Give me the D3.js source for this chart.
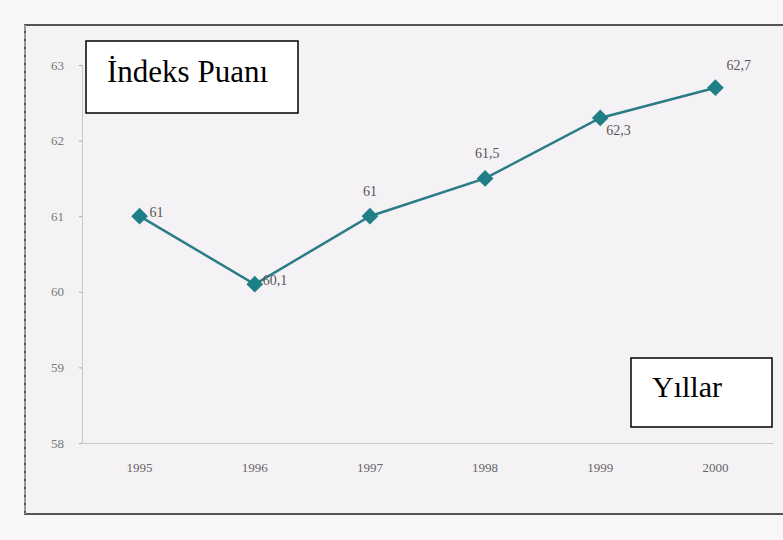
<!DOCTYPE html>
<html>
<head>
<meta charset="utf-8">
<script src="https://cdn.jsdelivr.net/npm/d3@7"></script>
<style>
body { margin: 0; background: #f8f6f9; }
</style>
</head>
<body>
<script>
var years = ["1995", "1996", "1997", "1998", "1999", "2000"];
var values = [61, 60.1, 61, 61.5, 62.3, 62.7];
var valueLabels = ["61", "60,1", "61", "61,5", "62,3", "62,7"];
var yTicks = [58, 59, 60, 61, 62, 63];

var W = 783, H = 540;
var margin = {top: 65, right: 10, bottom: 97, left: 82};

var svg = d3.select("body").append("svg")
  .attr("width", W)
  .attr("height", H);

// outer frame (cut off on the right like the scan)
svg.append("rect")
  .attr("x", 25).attr("y", 25)
  .attr("width", W + 10).attr("height", 489)
  .attr("fill", "#f5f2f6")
  .attr("stroke", "#555")
  .attr("stroke-width", 2);
svg.append("line")
  .attr("x1", 25).attr("y1", 25).attr("x2", 25).attr("y2", 514)
  .attr("stroke", "#999").attr("stroke-width", 2)
  .attr("stroke-dasharray", "6,2");

var xScale = d3.scaleBand()
  .domain(years)
  .range([margin.left, 773])
  .paddingInner(0)
  .paddingOuter(0);

var yScale = d3.scaleLinear()
  .domain([58, 63])
  .range([443, 65]);

var yAxis = d3.axisLeft(yScale).tickValues(yTicks).tickFormat(d3.format("d")).tickSize(3).tickPadding(15);
var yG = svg.append("g")
  .attr("transform", "translate(" + margin.left + ",0)")
  .call(yAxis);
yG.select(".domain").attr("stroke", "#c8c8c8");
yG.selectAll(".tick line").attr("stroke", "#aaa");
yG.selectAll("text")
  .attr("fill", "#777")
  .style("font-family", "Liberation Serif, Times New Roman, serif")
  .style("font-size", "13px");

var xAxis = d3.axisBottom(xScale).tickSize(0).tickPadding(20);
var xG = svg.append("g")
  .attr("transform", "translate(0,443)")
  .call(xAxis);
xG.select(".domain").attr("stroke", "#c8c8c8");
xG.selectAll("text")
  .attr("fill", "#666")
  .style("font-family", "Liberation Serif, Times New Roman, serif")
  .style("font-size", "13px");

var cx = function(d, i) { return xScale(years[i]) + xScale.bandwidth() / 2; };

var line = d3.line()
  .x(function(d, i) { return cx(d, i); })
  .y(function(d) { return yScale(d); });

svg.append("path")
  .datum(values)
  .attr("d", line)
  .attr("fill", "none")
  .attr("stroke", "#2b7c86")
  .attr("stroke-width", 2.5);

svg.selectAll(".pt")
  .data(values)
  .enter().append("path")
  .attr("class", "pt")
  .attr("d", d3.symbol().type(d3.symbolSquare).size(140))
  .attr("transform", function(d, i) { return "translate(" + cx(d, i) + "," + yScale(d) + ") rotate(45)"; })
  .attr("fill", "#1f7f86");

// label offsets: right of point, above, below-right
var labelPos = [[10, 1], [8, 1], [-7, -20], [-10, -20], [6, 17], [11, -18]];
svg.selectAll(".lbl")
  .data(values)
  .enter().append("text")
  .attr("class", "lbl")
  .attr("x", function(d, i) { return cx(d, i) + labelPos[i][0]; })
  .attr("y", function(d, i) { return yScale(d) + labelPos[i][1]; })
  .attr("fill", "#555")
  .style("font-family", "Liberation Serif, Times New Roman, serif")
  .style("font-size", "14px")
  .text(function(d, i) { return valueLabels[i]; });

// text boxes
svg.append("rect")
  .attr("x", 86).attr("y", 41).attr("width", 212).attr("height", 72)
  .attr("fill", "#fff").attr("stroke", "#000").attr("stroke-width", 1.5);
svg.append("text")
  .attr("x", 107).attr("y", 82)
  .style("font-family", "Liberation Serif, Times New Roman, serif")
  .style("font-size", "31px")
  .text("İndeks Puanı");

svg.append("rect")
  .attr("x", 631).attr("y", 358).attr("width", 141).attr("height", 69)
  .attr("fill", "#fff").attr("stroke", "#000").attr("stroke-width", 1.5);
svg.append("text")
  .attr("x", 652).attr("y", 397)
  .style("font-family", "Liberation Serif, Times New Roman, serif")
  .style("font-size", "30px")
  .text("Yıllar");
</script>
</body>
</html>
